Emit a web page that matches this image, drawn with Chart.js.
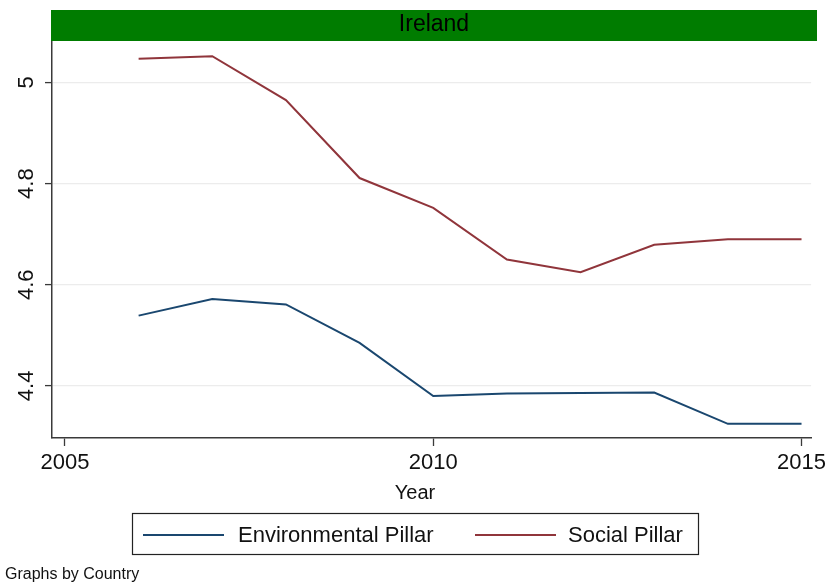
<!DOCTYPE html>
<html>
<head>
<meta charset="utf-8">
<script src="https://cdn.jsdelivr.net/npm/chart.js@4.4.1/dist/chart.umd.min.js"></script>
<style>
  html, body { margin: 0; padding: 0; background: #fff; }
  #wrap { width: 830px; height: 584px; position: relative; }
</style>
</head>
<body>
<div id="wrap"><canvas id="pillarChart" width="830" height="584"></canvas></div>
<script>
// data
const years = [2006, 2007, 2008, 2009, 2010, 2011, 2012, 2013, 2014, 2015];
const environmental = [4.539, 4.572, 4.561, 4.485, 4.380, 4.385, 4.386, 4.387, 4.325, 4.325];
const social = [5.047, 5.052, 4.965, 4.811, 4.752, 4.650, 4.625, 4.679, 4.690, 4.690];
const xTicks = [2005, 2010, 2015];
const yTicks = [4.4, 4.6, 4.8, 5];
const panelTitle = 'Ireland';
const xTitle = 'Year';
const note = 'Graphs by Country';

const FONT = '"Liberation Sans", Arial, Helvetica, sans-serif';
const AXIS = '#3a3a3a';

// header bar, rotated y labels, axis title, boxed legend and note
const stataDecor = {
  id: 'stataDecor',
  afterDraw(chart) {
    const ctx = chart.ctx;
    const y = chart.scales.y;

    ctx.save();
    // green panel header
    ctx.fillStyle = '#007c00';
    ctx.fillRect(51, 10, 766, 31);
    ctx.fillStyle = '#000';
    ctx.font = '23px ' + FONT;
    ctx.textAlign = 'center';
    ctx.textBaseline = 'middle';
    ctx.fillText(panelTitle, 434, 25);

    // y tick labels, reading upward
    ctx.font = '22px ' + FONT;
    ctx.fillStyle = '#111';
    y.ticks.forEach(t => {
      ctx.save();
      ctx.translate(27, y.getPixelForValue(t.value));
      ctx.rotate(-Math.PI / 2);
      ctx.textAlign = 'center';
      ctx.textBaseline = 'middle';
      ctx.fillText(String(t.value), 0, 0);
      ctx.restore();
    });

    // x axis title
    ctx.font = '20px ' + FONT;
    ctx.textAlign = 'center';
    ctx.fillText(xTitle, 415, 493);

    // legend box
    ctx.strokeStyle = '#222';
    ctx.lineWidth = 1.2;
    ctx.strokeRect(132.5, 513.5, 566, 41);
    const items = [
      { x: 143, tx: 238 },
      { x: 475, tx: 568 }
    ];
    chart.data.datasets.forEach((ds, i) => {
      const it = items[i];
      ctx.strokeStyle = ds.borderColor;
      ctx.lineWidth = 2;
      ctx.beginPath();
      ctx.moveTo(it.x, 535);
      ctx.lineTo(it.x + 81, 535);
      ctx.stroke();
      ctx.fillStyle = '#111';
      ctx.font = '22px ' + FONT;
      ctx.textAlign = 'left';
      ctx.fillText(ds.label, it.tx, 536);
    });

    // note
    ctx.font = '16px ' + FONT;
    ctx.fillText(note, 5, 575);
    ctx.restore();
  }
};

const ctx = document.getElementById('pillarChart').getContext('2d');
const pillarChart = new Chart(ctx, {
  type: 'line',
  data: {
    labels: years,
    datasets: [{
      label: 'Environmental Pillar',
      data: years.map((yr, i) => ({ x: yr, y: environmental[i] })),
      borderColor: '#1a476f',
      borderWidth: 2,
      pointRadius: 0,
      tension: 0
    }, {
      label: 'Social Pillar',
      data: years.map((yr, i) => ({ x: yr, y: social[i] })),
      borderColor: '#90353b',
      borderWidth: 2,
      pointRadius: 0,
      tension: 0
    }]
  },
  options: {
    responsive: false,
    animation: false,
    layout: { padding: { top: 42, right: 0, left: 0, bottom: 0 } },
    plugins: {
      legend: { display: false },
      tooltip: { enabled: false }
    },
    scales: {
      x: {
        type: 'linear',
        min: 2004.824,
        max: 2015.13,
        afterBuildTicks: s => { s.ticks = xTicks.map(v => ({ value: v })); },
        afterFit: s => { s.height = 146; },
        grid: { drawOnChartArea: false, drawTicks: true, tickLength: 8, tickColor: AXIS, tickWidth: 1.3 },
        border: { color: AXIS, width: 1.5 },
        ticks: {
          color: '#111',
          padding: 4,
          maxRotation: 0,
          font: { family: FONT, size: 22 },
          callback: v => String(v)
        }
      },
      y: {
        min: 4.297,
        max: 5.08,
        afterBuildTicks: s => { s.ticks = yTicks.map(v => ({ value: v })); },
        afterFit: s => { s.width = 52; },
        grid: { color: '#ececec', lineWidth: 1.2, drawTicks: true, tickLength: 7, tickColor: AXIS, tickWidth: 1.3 },
        border: { color: AXIS, width: 1.5 },
        ticks: { display: false }
      }
    }
  },
  plugins: [stataDecor]
});
</script>
</body>
</html>
